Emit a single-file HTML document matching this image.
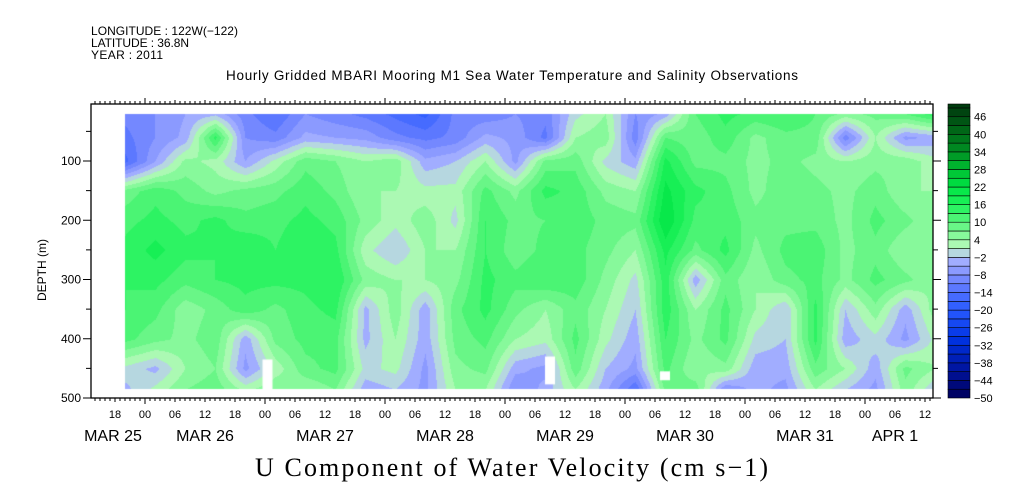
<!DOCTYPE html>
<html><head><meta charset="utf-8">
<style>
html,body{margin:0;padding:0;background:#fff;}
#wrap{position:relative;width:1009px;height:504px;overflow:hidden;}
canvas,svg{position:absolute;left:0;top:0;}
text{font-family:"Liberation Sans",sans-serif;fill:#000;}
</style></head>
<body>
<div id="wrap">
<canvas id="cv" width="1009" height="504"></canvas>
<svg id="sv" width="1009" height="504"></svg>
</div>
<script>
// data: columns every 6 h starting Mar 25 20:00; rows = depths (m)
const depths = [20,60,100,150,200,250,300,350,400,450,485];
const startHour = 20; // hours after Mar 25 00:00
const stepHours = 6;
const u00 = [-10,-12,-15,8,12,14,13,13,11,0,-3];
const u01 = [-8,-8,-5,12,14,17,14,11,8,-3,2];
const u02 = [-5,-4,5,9,12,14,11,5,6,4,7];
const u03 = [-3,14,3,6,14,13,13,8,9,7,9];
const u04 = [-10,-8,-5,8,11,16,14,12,-4,-6,3];
const u05 = [-14,-10,2,9,12,13,14,9,8,2,7];
const u06 = [-8,-4,9,12,14,16,14,12,11,9,4];
const u07 = [-10,-5,7,9,12,14,16,14,11,11,7];
const u08 = [-12,-6,4,4,6,2,6,-3,-3,0,-4];
const u09 = [-15,-10,6,4,2,-2,4,6,4,2,-2];
const u10 = [-18,-12,-4,2,6,4,4,-4,-4,-6,-6];
const u11 = [-10,-10,-2,2,0,4,6,9,8,6,4];
const u12 = [-10,-4,4,11,13,13,14,14,11,8,4];
const u13 = [-8,-6,-6,6,9,8,11,8,4,-4,-8];
const u14 = [-10,-12,8,14,10,11,13,4,2,-6,-4];
const u15 = [0,4,9,12,12,11,12,9,11,9,4];
const u16 = [4,6,0,6,9,8,6,4,2,-2,-4];
const u17 = [-8,-10,-4,4,8,4,0,-2,-4,-6,-14];
const u18 = [-4,10,17,20,22,17,15,15,13,11,8];
const u19 = [10,8,9,14,12,9,-4,4,6,4,9];
const u20 = [14,12,9,11,12,14,9,11,11,6,-8];
const u21 = [12,6,6,6,8,6,4,4,0,-4,-4];
const u22 = [13,9,8,9,9,11,9,-2,-2,-4,-6];
const u23 = [10,9,6,8,9,12,11,14,14,9,4];
const u24 = [6,-10,4,6,6,6,6,-2,-4,4,-2];
const u25 = [8,4,6,9,11,9,11,6,0,-4,-6];
const u26 = [10,-6,6,4,8,4,8,-4,-6,8,6];
const u27 = [15,-4,2,4,4,6,4,6,2,4,-2];
const columns = [u00,u01,u02,u03,u04,u05,u06,u07,u08,u09,u10,u11,u12,u13,u14,u15,u16,u17,u18,u19,u20,u21,u22,u23,u24,u25,u26,u27];
const colorbarLabels = [46,40,34,28,22,16,10,4,-2,-8,-14,-20,-26,-32,-38,-44,-50];
const depthTicks = [100,200,300,400,500];
const hourLabels = ["18","00","06","12","18","00","06","12","18","00","06","12","18","00","06","12","18","00","06","12","18","00","06","12","18","00","06","12"];
const dayLabels = ["MAR 25","MAR 26","MAR 27","MAR 28","MAR 29","MAR 30","MAR 31","APR  1"];
// gaps (missing data): [startHour, endHour, depthTop, depthBottom]
const gaps = [[47.5,49.5,435,485],[104,106,430,477],[127,129,455,470]];

// geometry
const X0=91, X1=933, Y0=104, Y1=398;
const xOfHour = h => 145 + (h-24)*5;          // hours since Mar 25 00:00
const yOfDepth = d => 161 + (d-100)*0.5925;
const depthOfY = y => 100 + (y-161)/0.5925;
const hourOfX = x => 24 + (x-145)/5;

// colour palette
const stops=[[-50,[0,0,90]],[-40,[0,20,160]],[-30,[0,50,225]],[-20,[40,90,255]],[-14,[80,112,255]],[-8,[128,144,255]],[-2,[172,182,255]],[1,[192,248,192]],[4,[150,250,165]],[10,[90,245,125]],[16,[30,242,90]],[22,[0,228,68]],[28,[0,190,50]],[34,[0,145,35]],[40,[0,110,25]],[49,[0,60,14]]];
function colorOf(v){
  const b=Math.floor((v+50)/3); const m=-50+b*3+1.5;
  let c=stops[stops.length-1][1];
  if(m<=stops[0][0]) c=stops[0][1];
  for(let i=0;i<stops.length-1;i++){const a=stops[i],z=stops[i+1];
    if(m>=a[0]&&m<=z[0]){const t=(m-a[0])/(z[0]-a[0]);c=a[1].map((q,k)=>Math.round(q+(z[1][k]-q)*t));break;}}
  return c;
}
function valueAt(h,d){
  let ci=(h-startHour)/stepHours; ci=Math.max(0,Math.min(columns.length-1.0001,ci));
  const i0=Math.floor(ci), tc=ci-i0;
  let ri=0; while(ri<depths.length-2 && d>depths[ri+1]) ri++;
  let tr=(d-depths[ri])/(depths[ri+1]-depths[ri]); tr=Math.max(0,Math.min(1,tr));
  const a=columns[i0][ri],b=columns[i0+1][ri],c=columns[i0][ri+1],e=columns[i0+1][ri+1];
  return (a*(1-tc)+b*tc)*(1-tr)+(c*(1-tc)+e*tc)*tr;
}
// draw field
const cv=document.getElementById('cv'); const ctx=cv.getContext('2d');
const fx0=Math.round(xOfHour(startHour)), fx1=X1, fy0=Math.round(yOfDepth(depths[0])), fy1=Math.round(yOfDepth(depths[depths.length-1]));
const img=ctx.createImageData(fx1-fx0,fy1-fy0);
for(let y=fy0;y<fy1;y++){for(let x=fx0;x<fx1;x++){
  const v=valueAt(hourOfX(x),depthOfY(y)); const c=colorOf(v); const p=((y-fy0)*(fx1-fx0)+(x-fx0))*4;
  img.data[p]=c[0];img.data[p+1]=c[1];img.data[p+2]=c[2];img.data[p+3]=255;}}
ctx.putImageData(img,fx0,fy0);
ctx.fillStyle='#fff';
gaps.forEach(g=>{ctx.fillRect(xOfHour(g[0]),yOfDepth(g[2]),xOfHour(g[1])-xOfHour(g[0]),yOfDepth(g[3])-yOfDepth(g[2]));});

// SVG overlay
const NS='http://www.w3.org/2000/svg'; const sv=document.getElementById('sv');
function el(tag,attrs,txt){const e=document.createElementNS(NS,tag);for(const k in attrs)e.setAttribute(k,attrs[k]);if(txt!==undefined)e.textContent=txt;sv.appendChild(e);return e;}
let e;
e=el('rect',{x:X0,y:Y0,width:X1-X0,height:Y1-Y0,fill:'none',stroke:'#000','stroke-width':1.3});


let tk='';
for(let h=0;h<=200;h++){const x=xOfHour(h); if(x<X0||x>X1)continue;
  const big=(h%24===0)?6:(h%6===0?4:3);
  tk+=`M${x} ${Y1}v${big}M${x} ${Y0}v${-big}`;}
for(let d=50;d<=500;d+=50){const y=yOfDepth(d);const L=(d%100===0)?8:5;tk+=`M${X0} ${y}h${-L}M${X1} ${y}h${L}`;}
e=el('path',{d:tk,stroke:'#000','stroke-width':1,fill:'none'});


depthTicks.forEach(d=>{e=el('text',{x:X0-10,y:yOfDepth(d)+4,'text-anchor':'end','font-size':12},String(d));

});
e=el('text',{x:46,y:270,'text-anchor':'middle','font-size':12,transform:'rotate(-90 46 270)'},'DEPTH (m)');


hourLabels.forEach((s,i)=>{const h=18+i*6;e=el('text',{x:xOfHour(h),y:418,'text-anchor':'middle','font-size':11},s);

});
dayLabels.forEach((s,i)=>{let cx=xOfHour(i*24+12); if(i===0)cx=113; if(i===dayLabels.length-1)cx=895;
e=el('text',{x:cx,y:441,'text-anchor':'middle','font-size':16,'xml:space':'preserve'},s);

});
// colorbar
const CBX=948,CBW=22,cbY=v=>398-(v+50)*2.93;
for(let v=-50;v<50;v+=3){const c=colorOf(v+1.5);
 e=el('rect',{x:CBX,y:Math.max(104,cbY(v+3)),width:CBW,height:cbY(v)-Math.max(104,cbY(v+3)),fill:`rgb(${c})`,stroke:'#000','stroke-width':0.6});
 
 }
colorbarLabels.forEach(v=>{e=el('text',{x:CBX+CBW+4,y:cbY(v)+4,'font-size':11},String(v).replace('-','\u2212'));

});
</script>
<svg width="1009" height="504" style="position:absolute;left:0;top:0;pointer-events:none">
<text x="91" y="35" font-size="12" textLength="147">LONGITUDE : 122W(−122)</text>
<text x="91" y="47" font-size="12" textLength="98">LATITUDE : 36.8N</text>
<text x="91" y="59" font-size="12" textLength="72">YEAR : 2011</text>
<text x="226" y="80" font-size="13.5" textLength="572">Hourly Gridded MBARI Mooring M1 Sea Water Temperature and Salinity Observations</text>
<text x="255" y="476" font-size="26" textLength="513" style="font-family:'Liberation Serif',serif">U Component of Water Velocity (cm s−1)</text>
</svg>
</body></html>
